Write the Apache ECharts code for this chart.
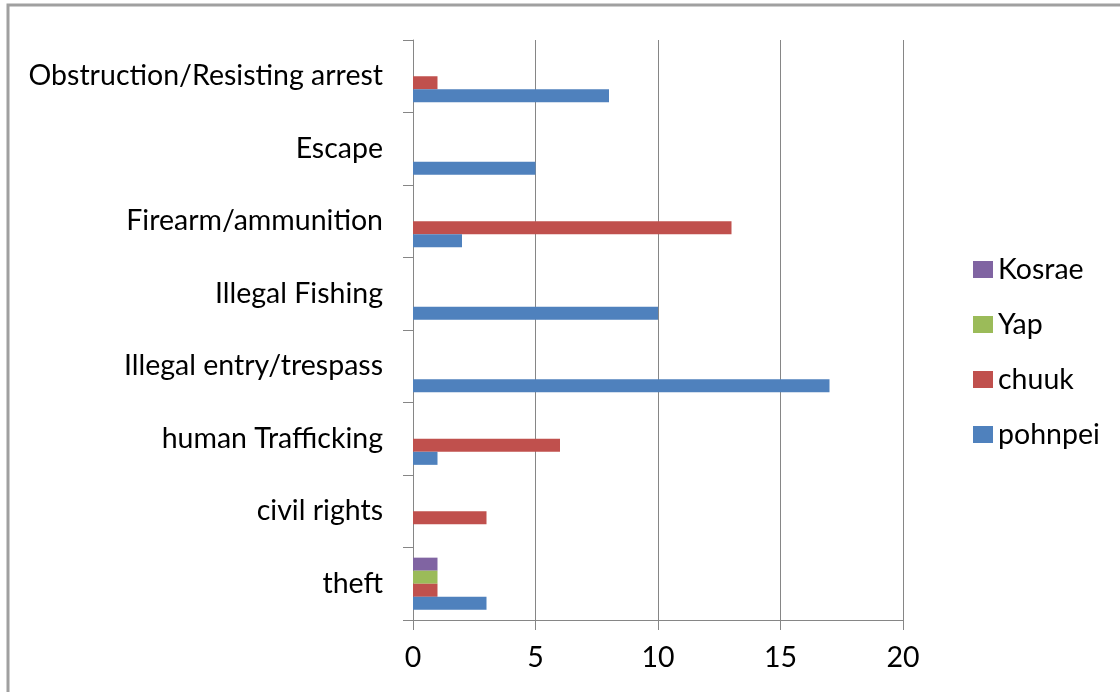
<!DOCTYPE html>
<html><head><meta charset="utf-8">
<script src="https://cdn.jsdelivr.net/npm/echarts@6/dist/echarts.min.js"></script>
<style>html,body{margin:0;padding:0;background:#fff}#c{width:1120px;height:692px}</style>
</head><body><div id="c"></div>
<script>
const categories = ['theft','civil rights','human Trafficking','Illegal entry/trespass','Illegal Fishing','Firearm/ammunition','Escape','Obstruction/Resisting arrest'];
const pohnpei = [3, null, 1, 17, 10, 2, 5, 8];
const chuuk   = [1, 3, 6, null, null, 13, null, 1];
const yap     = [1, null, null, null, null, null, null, null];
const kosrae  = [1, null, null, null, null, null, null, null];
const xTicks  = [0, 5, 10, 15, 20];

const FONT = 'Lato';
const FS = 28.5;
const chart = echarts.init(document.getElementById('c'), null, {renderer:'canvas'});
function bar(name, data, color){
  return {name, type:'bar', data, barGap:'0%', barCategoryGap:'28%',
    itemStyle:{color}, emphasis:{disabled:true}, animation:false};
}
chart.setOption({
  animation:false,
  textStyle:{fontFamily:FONT},
  grid:{left:413, right:217, top:40, bottom:72, containLabel:false},
  legend:{
    orient:'vertical', left:968, top:250, itemGap:26, itemWidth:20, itemHeight:17,
    data:['Kosrae','Yap','chuuk','pohnpei'],
    textStyle:{fontFamily:FONT, fontSize:FS, color:'#000'},
    icon:'rect', selectedMode:false
  },
  xAxis:{
    type:'value', min:xTicks[0], max:xTicks[xTicks.length-1], interval:5,
    axisLine:{show:true, lineStyle:{color:'#868686', width:1}},
    axisTick:{show:true, length:10, lineStyle:{color:'#868686'}},
    axisLabel:{fontFamily:FONT, fontSize:FS, color:'#000', margin:23},
    splitLine:{show:true, lineStyle:{color:'#868686', width:1}}
  },
  yAxis:{
    type:'category', data:categories,
    axisLine:{show:true, lineStyle:{color:'#868686', width:1}},
    axisTick:{show:true, length:10, alignWithLabel:false, lineStyle:{color:'#868686'}},
    axisLabel:{fontFamily:FONT, fontSize:FS, color:'#000', margin:30}
  },
  series:[
    bar('Kosrae', kosrae, '#8064A2'),
    bar('Yap', yap, '#9BBB59'),
    bar('chuuk', chuuk, '#C0504D'),
    bar('pohnpei', pohnpei, '#4F81BD')
  ],
  graphic:[
    {type:'polyline', shape:{points:[[8,692],[8,5],[1120,5]]}, style:{stroke:'#a0a0a0', lineWidth:3, fill:null}, silent:true}
  ]
});
</script></body></html>
